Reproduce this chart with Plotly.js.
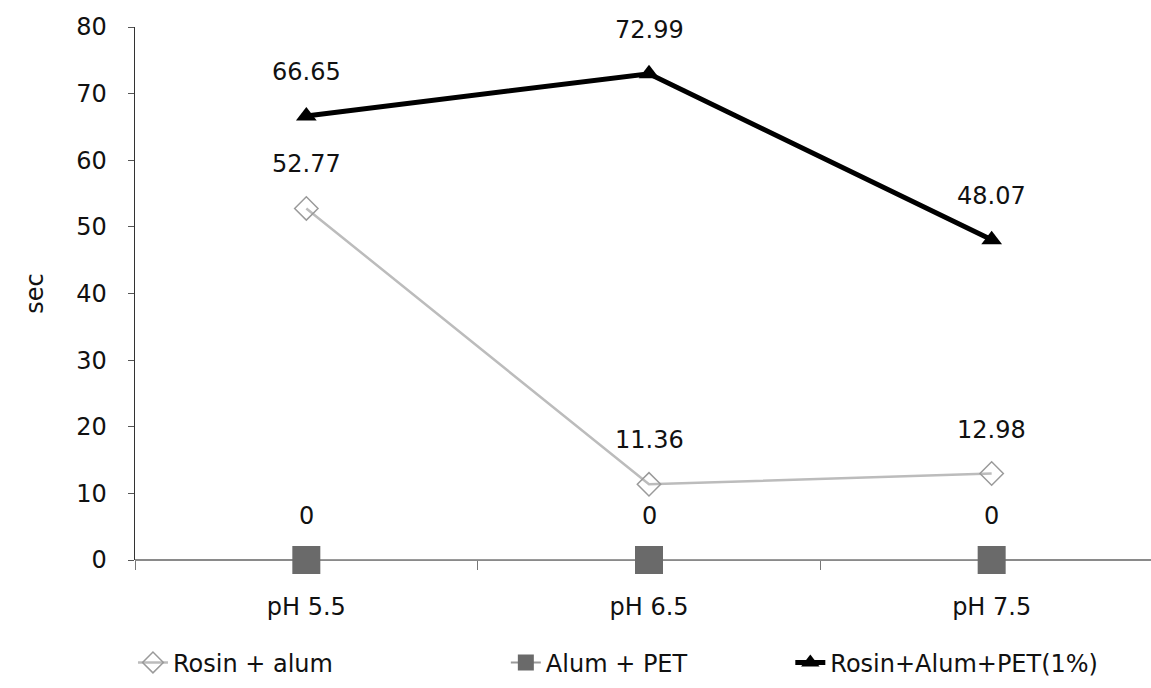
<!DOCTYPE html>
<html>
<head>
<meta charset="utf-8">
<script src="https://cdn.plot.ly/plotly-3.0.1.min.js"></script>
<style>html,body{margin:0;padding:0;background:#fff;}#chart{width:1151px;height:688px;}</style>
</head>
<body>
<div id="chart"></div>
<script>
const categories = ["pH 5.5", "pH 6.5", "pH 7.5"];
const rosinAlum = [52.77, 11.36, 12.98];
const alumPet = [0, 0, 0];
const rosinAlumPet = [66.65, 72.99, 48.07];
const seriesNames = ["Rosin + alum", "Alum + PET", "Rosin+Alum+PET(1%)"];
const yTicks = [0, 10, 20, 30, 40, 50, 60, 70, 80];

const FONT = "DejaVu Sans, Verdana, sans-serif";
const FS = 24;

const traces = [
  {
    x: categories, y: rosinAlum, name: seriesNames[0], type: "scatter", mode: "lines+markers",
    line: {color: "#bcbcbc", width: 2.5},
    marker: {symbol: "diamond-open", size: 18, color: "#9a9a9a", line: {width: 1.5, color: "#9a9a9a"}},
    legend: "legend"
  },
  {
    x: categories, y: alumPet, name: seriesNames[1], type: "scatter", mode: "lines+markers",
    line: {color: "#9a9a9a", width: 2},
    marker: {symbol: "square", size: 28, color: "#6a6a6a"},
    cliponaxis: false,
    legend: "legend2"
  },
  {
    x: categories, y: rosinAlumPet, name: seriesNames[2], type: "scatter", mode: "lines+markers",
    line: {color: "#000", width: 5},
    marker: {symbol: "triangle-up", size: 18, color: "#000"},
    legend: "legend3"
  }
];

const annotations = [];
[rosinAlum, alumPet, rosinAlumPet].forEach(arr => {
  arr.forEach((v, i) => {
    annotations.push({
      x: categories[i], y: v, text: String(v), showarrow: false,
      yshift: 44, font: {family: FONT, size: FS, color: "#111"}
    });
  });
});

const legendBase = {
  orientation: "h", y: -0.193, yanchor: "middle", xanchor: "left",
  font: {family: FONT, size: FS, color: "#111"}, bgcolor: "rgba(0,0,0,0)"
};

const layout = {
  width: 1151, height: 688,
  margin: {l: 135, r: 0, t: 27, b: 128},
  paper_bgcolor: "#fff", plot_bgcolor: "#fff",
  font: {family: FONT, size: FS, color: "#111"},
  showlegend: true,
  legend: Object.assign({}, legendBase, {x: -0.002}),
  legend2: Object.assign({}, legendBase, {x: 0.365}),
  legend3: Object.assign({}, legendBase, {x: 0.645}),
  xaxis: {
    type: "category", range: [-0.5, 2.465],
    showline: false, zeroline: false, showgrid: false,
    ticks: "outside", tickson: "boundaries", ticklen: 9, tickcolor: "#777", tickwidth: 1,
    tickfont: {family: FONT, size: FS, color: "#111"}, ticklabelstandoff: 30
  },
  yaxis: {
    range: [0, 80], tickvals: yTicks, ticktext: yTicks.map(String),
    showline: true, linecolor: "#333", linewidth: 1.5,
    ticks: "outside", ticklen: 6, tickcolor: "#555",
    showgrid: false, zeroline: true, zerolinecolor: "#8a8a8a", zerolinewidth: 1.5,
    tickfont: {family: FONT, size: FS, color: "#111"}, ticklabelstandoff: 16,
    title: {text: "sec", font: {family: FONT, size: FS, color: "#111"}, standoff: 26}
  },
  annotations: annotations
};

Plotly.newPlot("chart", traces, layout, {displayModeBar: false, staticPlot: true});
</script>
</body>
</html>
